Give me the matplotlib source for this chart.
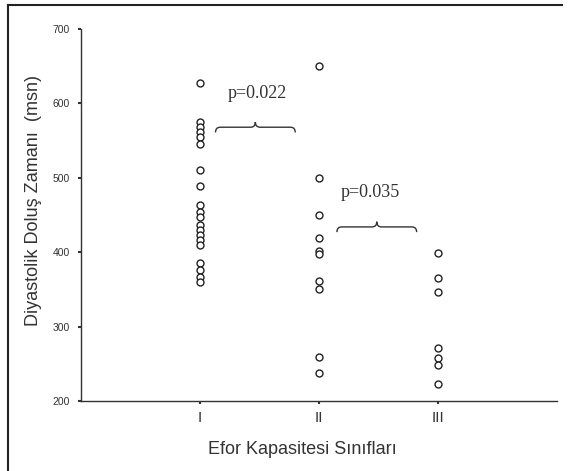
import matplotlib
matplotlib.use("Agg")
import matplotlib.pyplot as plt
from matplotlib.path import Path
from matplotlib.patches import PathPatch
from matplotlib.lines import Line2D

# values (msn)
group_labels = ["I", "II", "III"]
group_I = [627, 575, 568, 562, 555, 545, 510, 489, 463, 454, 447, 437, 430, 423,
           416, 410, 385, 376, 367, 360]
group_II = [650, 500, 450, 419, 402, 398, 361, 351, 259, 238]
group_III = [399, 365, 346, 271, 258, 249, 223]
p_texts = ["p=0.022", "p=0.035"]


def draw_brace(ax, x0, x1, y, d):
    xm = (x0 + x1) / 2
    e = (x1 - x0) * 0.06
    verts = [(x0, y - d), (x0, y), (x0 + e, y),
             (xm - e, y), (xm, y), (xm, y + d),
             (xm, y), (xm + e, y),
             (x1 - e, y), (x1, y), (x1, y - d)]
    codes = [Path.MOVETO, Path.CURVE3, Path.CURVE3,
             Path.LINETO, Path.CURVE3, Path.CURVE3,
             Path.CURVE3, Path.CURVE3,
             Path.LINETO, Path.CURVE3, Path.CURVE3]
    ax.add_patch(PathPatch(Path(verts, codes), fill=False, lw=1.0, ec="#333333"))


fig = plt.figure(figsize=(5.69, 4.71), dpi=100)
ax = fig.add_axes([0.1424, 0.1486, 0.8366, 0.7898])

for i, vals in enumerate([group_I, group_II, group_III]):
    ax.plot([i + 1] * len(vals), vals, linestyle="none", marker="o",
            markersize=5.0, markerfacecolor="white", markeredgecolor="#222222",
            markeredgewidth=1.0)

ax.set_xlim(0, 4)
ax.set_ylim(200, 700)
ax.set_xticks([1, 2, 3])
ax.set_xticklabels(group_labels, fontsize=11, family="Liberation Sans")
ax.set_yticks([200, 300, 400, 500, 600, 700])
ax.tick_params(axis="y", labelsize=7.5, length=2, width=1.5, pad=6, colors="#333333")
ax.tick_params(axis="x", length=2, width=1.5, pad=5, colors="#333333")
for lab in ax.get_yticklabels():
    lab.set_family("Liberation Sans")

for s in ["top", "right"]:
    ax.spines[s].set_visible(False)
for s in ["left", "bottom"]:
    ax.spines[s].set_color("#333333")
    ax.spines[s].set_linewidth(1.0)

ax.set_ylabel("Diyastolik Doluş Zamanı  (msn)", fontsize=13,
              family="Liberation Sans", color="#333333", labelpad=8)
ax.yaxis.set_label_coords(-0.083, 0.54)
ax.set_xlabel("Efor Kapasitesi Sınıfları", fontsize=13,
              family="Liberation Sans", color="#333333", labelpad=12)
ax.xaxis.set_label_coords(0.466, -0.108)

# brackets with p values
draw_brace(ax, 1.13, 1.80, 568, 7)
draw_brace(ax, 2.15, 2.82, 434, 7)
ax.text(1.48, 613, p_texts[0], ha="center", va="center", fontsize=13,
        family="Liberation Serif", color="#333333")
ax.text(2.43, 480, p_texts[1], ha="center", va="center", fontsize=13,
        family="Liberation Serif", color="#333333")

# scan frame (left and top edges)
fig.add_artist(Line2D([8 / 569, 8 / 569], [0, 1 - 5 / 471], transform=fig.transFigure,
                      color="#222222", lw=1.5))
fig.add_artist(Line2D([8 / 569, 562 / 569], [1 - 5 / 471, 1 - 5 / 471],
                      transform=fig.transFigure, color="#222222", lw=1.5))

fig.savefig("out.png", dpi=100)
